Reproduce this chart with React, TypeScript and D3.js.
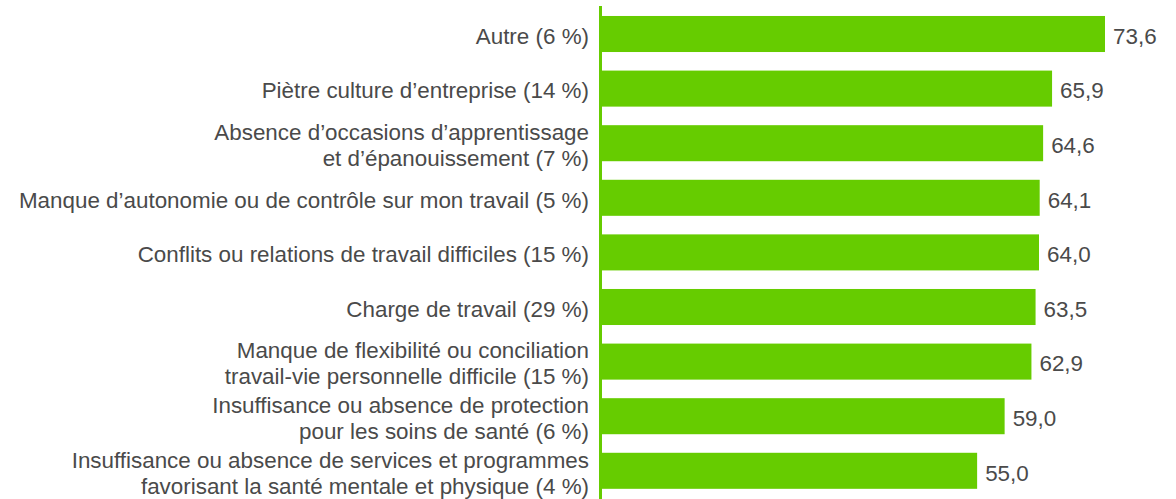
import React from "react";
import * as d3 from "d3";

const categories: string[][] = [
  ["Autre (6 %)"],
  ["Piètre culture d’entreprise (14 %)"],
  ["Absence d’occasions d’apprentissage", "et d’épanouissement (7 %)"],
  ["Manque d’autonomie ou de contrôle sur mon travail (5 %)"],
  ["Conflits ou relations de travail difficiles (15 %)"],
  ["Charge de travail (29 %)"],
  ["Manque de flexibilité ou conciliation", "travail-vie personnelle difficile (15 %)"],
  ["Insuffisance ou absence de protection", "pour les soins de santé (6 %)"],
  ["Insuffisance ou absence de services et programmes", "favorisant la santé mentale et physique (4 %)"],
];
const values: number[] = [73.6, 65.9, 64.6, 64.1, 64.0, 63.5, 62.9, 59.0, 55.0];

const W = 1176;
const H = 499;
const X0 = 599;
const GREEN = "#66cc00";
const TEXT = "#4a4a4a";
const FONT = "'Liberation Sans', Arial, sans-serif";
const FS = 22.4;

export default function App() {
  const idx = categories.map((_, i) => String(i));
  const x = d3.scaleLinear().domain([0, 73.6]).range([X0, 1105]);
  const step = 54.6;
  const y = d3
    .scaleBand<string>()
    .domain(idx)
    .range([6.7, 6.7 + 9 * step])
    .paddingInner(0.34)
    .paddingOuter(0.17);
  const fmt = (v: number) => v.toFixed(1).replace(".", ",");
  const lineH = 26;
  return (
    <svg
      width={W}
      height={H}
      style={{ position: "absolute", left: 0, top: 0, background: "#fff" }}
    >
      {idx.map((k, i) => {
        const yc = (y(k) as number) + y.bandwidth() / 2;
        const lines = categories[i];
        const n = lines.length;
        return (
          <g key={k}>
            <rect
              x={x(0)}
              y={y(k)}
              width={x(values[i]) - x(0)}
              height={y.bandwidth()}
              fill={GREEN}
            />
            <text
              x={x(values[i]) + 8}
              y={yc + 2}
              dy="0.35em"
              fontFamily={FONT}
              fontSize={FS}
              fill={TEXT}
            >
              {fmt(values[i])}
            </text>
            <text
              textAnchor="end"
              fontFamily={FONT}
              fontSize={FS}
              fill={TEXT}
            >
              {lines.map((l, j) => (
                <tspan
                  key={j}
                  x={589}
                  y={yc + 2 + (j - (n - 1) / 2) * lineH}
                  dy="0.35em"
                >
                  {l}
                </tspan>
              ))}
            </text>
          </g>
        );
      })}
      <line x1={X0 + 1.5} x2={X0 + 1.5} y1={6} y2={H} stroke={GREEN} strokeWidth={3} />
    </svg>
  );
}
